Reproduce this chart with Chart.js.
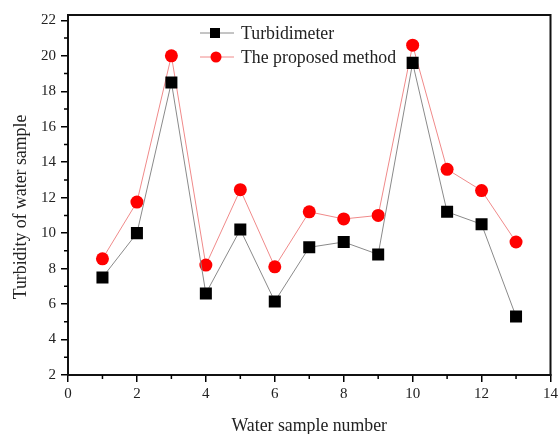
<!DOCTYPE html>
<html><head><meta charset="utf-8">
<script src="https://cdn.jsdelivr.net/npm/chart.js@4/dist/chart.umd.min.js"></script>
<style>html,body{margin:0;padding:0;background:#fff}#wrap{width:559px;height:434px}</style>
</head><body><div id="wrap"><canvas id="c" width="559" height="434"></canvas></div>
<script>
const samples = [1,2,3,4,5,6,7,8,9,10,11,12,13];
const turbidimeter = [7.5,10.0,18.5,6.6,10.2,6.15,9.2,9.5,8.8,19.6,11.2,10.5,5.3];
const proposed = [8.55,11.75,20.0,8.2,12.45,8.1,11.2,10.8,11.0,20.6,13.6,12.4,9.5];
const seriesNames = ['Turbidimeter','The proposed method'];
const xTicks = [0,2,4,6,8,10,12,14];
const yTicks = [2,4,6,8,10,12,14,16,18,20,22];
const xTitle = 'Water sample number';
const yTitle = 'Turbidity of water sample';

const FONT = 'Liberation Serif';

const extras = {
  id:'extras',
  afterDraw(chart){
    const ctx = chart.ctx, a = chart.chartArea, xs = chart.scales.x, ys = chart.scales.y;
    ctx.save();
    ctx.strokeStyle='#111'; ctx.lineWidth=2;
    ctx.strokeRect(a.left, a.top, a.right-a.left, a.bottom-a.top);
    ctx.lineWidth=1.5; ctx.strokeStyle='#000';
    ctx.beginPath();
    for(let v=1; v<14; v+=2){ const px=xs.getPixelForValue(v); ctx.moveTo(px,a.bottom); ctx.lineTo(px,a.bottom+4); }
    for(let v=3; v<22; v+=2){ const py=ys.getPixelForValue(v); ctx.moveTo(a.left,py); ctx.lineTo(a.left-4,py); }
    ctx.stroke();
    ctx.fillStyle='#222';
    ctx.font = '17.8px "'+FONT+'"';
    ctx.textAlign='center'; ctx.textBaseline='alphabetic';
    ctx.fillText(xTitle, (a.left+a.right)/2, 431);
    ctx.save();
    ctx.translate(26, 207); ctx.rotate(-Math.PI/2);
    ctx.fillText(yTitle, 0, 0);
    ctx.restore();
    const rows=[{y:33,ds:chart.data.datasets[0]},{y:57,ds:chart.data.datasets[1]}];
    ctx.font = '17.8px "'+FONT+'"';
    ctx.textAlign='left'; ctx.textBaseline='middle';
    rows.forEach((r,i)=>{
      ctx.strokeStyle=r.ds.borderColor; ctx.lineWidth=1;
      ctx.beginPath(); ctx.moveTo(200,r.y); ctx.lineTo(234,r.y); ctx.stroke();
      ctx.fillStyle=r.ds.pointBackgroundColor;
      if(r.ds.pointStyle==='rect'){ ctx.fillRect(210,r.y-5,10,10); }
      else { ctx.beginPath(); ctx.arc(216,r.y,5.5,0,Math.PI*2); ctx.fill(); }
      ctx.fillStyle='#222';
      ctx.fillText(seriesNames[i], 241, r.y+1);
    });
    ctx.restore();
  }
};

new Chart(document.getElementById('c'), {
  type:'line',
  data:{
    datasets:[
      {label:seriesNames[0], data:samples.map((s,i)=>({x:s,y:turbidimeter[i]})),
       borderColor:'#8a8a8a', borderWidth:1, pointStyle:'rect', pointRadius:8.5, pointHoverRadius:8.5,
       pointBackgroundColor:'#000', pointBorderColor:'#000', pointBorderWidth:0},
      {label:seriesNames[1], data:samples.map((s,i)=>({x:s,y:proposed[i]})),
       borderColor:'#f08a8a', borderWidth:1, pointStyle:'circle', pointRadius:6.5, pointHoverRadius:6.5,
       pointBackgroundColor:'#ff0000', pointBorderColor:'#ff0000', pointBorderWidth:0}
    ]
  },
  options:{
    responsive:false, animation:false,
    layout:{padding:{top:15,right:5,left:0,bottom:0}},
    plugins:{legend:{display:false}, tooltip:{enabled:false}},
    scales:{
      x:{type:'linear', min:0, max:14,
         afterBuildTicks:s=>{s.ticks=xTicks.map(v=>({value:v}));},
         afterFit:s=>{s.height=59; s.paddingLeft=0; s.paddingRight=0;},
         grid:{drawOnChartArea:false, drawTicks:true, tickLength:7, color:'#000', lineWidth:1.5},
         border:{display:true, color:'#000', width:2},
         ticks:{padding:3, color:'#222', font:{family:FONT, size:15}, maxRotation:0}},
      y:{type:'linear', min:2, max:22.3,
         afterBuildTicks:s=>{s.ticks=yTicks.map(v=>({value:v}));},
         afterFit:s=>{s.width=68; s.paddingTop=0; s.paddingBottom=0;},
         grid:{drawOnChartArea:false, drawTicks:true, tickLength:7, color:'#000', lineWidth:1.5},
         border:{display:true, color:'#000', width:2},
         ticks:{padding:5, color:'#222', font:{family:FONT, size:15}}}
    }
  },
  plugins:[extras]
});
</script></body></html>
